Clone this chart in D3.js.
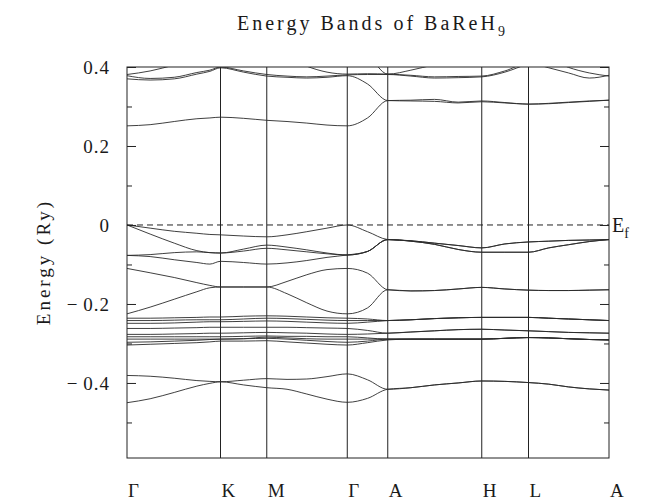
<!DOCTYPE html>
<html>
<head>
<meta charset="utf-8">
<script src="https://cdn.jsdelivr.net/npm/d3@7"></script>
<style>
    body { margin: 0; background: #fff; }
    svg { display: block; }
    text { font-family: "Liberation Serif", "DejaVu Serif", serif; fill: #1a1a1a; }
</style>
</head>
<body>
<svg id="chart" width="655" height="502"></svg>
<script>

// k-path: symmetry points (fraction of the whole path)
var symLabels = ['Γ', 'K', 'M', 'Γ', 'A', 'H', 'L', 'A'];
var symK = [0, 0.194, 0.290, 0.457, 0.541, 0.736, 0.833, 1.0];

// sample points along the path, shared by every band
var kGrid = [0, 0.048, 0.098, 0.145, 0.172, 0.194, 0.242, 0.290, 0.332, 0.373, 0.415, 0.457,
    0.499, 0.541, 0.589, 0.638, 0.687, 0.736, 0.784, 0.833, 0.875, 0.916, 0.959, 1.0];

// energy ticks (Ry)
var majorTicks = [0.4, 0.2, 0, -0.2, -0.4];
var minorTicks = [0.3, 0.1, -0.1, -0.3, -0.5];

// bands near the top
var bandT1 = [0.381, 0.390, 0.405, 0.420, 0.432, 0.440, 0.445, 0.440, 0.425, 0.402, 0.387, 0.382,
    0.383, 0.382, 0.379, 0.375, 0.376, 0.377, 0.390, 0.410, 0.398, 0.385, 0.372, 0.379];
var bandT2 = [0.45, 0.45, 0.45, 0.45, 0.45, 0.45, 0.45, 0.45, 0.45, 0.45, 0.45, 0.45,
    0.43, 0.382, 0.392, 0.406, 0.420, 0.430, 0.440, 0.450, 0.450, 0.450, 0.450, 0.450];
var bandB = [0.378, 0.371, 0.374, 0.386, 0.392, 0.400, 0.390, 0.381, 0.377, 0.375, 0.377, 0.380,
    0.381, 0.381, 0.377, 0.372, 0.373, 0.375, 0.387, 0.408, 0.420, 0.399, 0.385, 0.377];
var bandC = [0.370, 0.367, 0.370, 0.382, 0.389, 0.398, 0.387, 0.377, 0.374, 0.372, 0.374, 0.378,
    0.357, 0.315, 0.314, 0.313, 0.309, 0.312, 0.309, 0.306, 0.307, 0.310, 0.313, 0.316];
var bandR = [0.251, 0.254, 0.262, 0.269, 0.271, 0.273, 0.270, 0.265, 0.262, 0.258, 0.253, 0.251,
    0.271, 0.315, 0.316, 0.318, 0.311, 0.314, 0.310, 0.306, 0.308, 0.311, 0.314, 0.316];

// bands just below the Fermi level
var bandQ1 = [0, -0.008, -0.016, -0.021, -0.024, -0.025, -0.028, -0.030, -0.025, -0.017, -0.008, 0,
    -0.017, -0.037, -0.040, -0.046, -0.052, -0.058, -0.048, -0.043, -0.041, -0.039, -0.038, -0.037];
var bandQ2 = [0, -0.023, -0.046, -0.065, -0.070, -0.071, -0.061, -0.051, -0.056, -0.063, -0.071, -0.076,
    -0.067, -0.037].concat(bandQ1.slice(14));
var bandQ3 = [-0.077, -0.075, -0.070, -0.068, -0.070, -0.071, -0.066, -0.059, -0.063, -0.068, -0.073, -0.076,
    -0.067, -0.037, -0.041, -0.049, -0.062, -0.069, -0.069, -0.069, -0.058, -0.050, -0.042, -0.037];
var bandQ4 = [-0.077, -0.080, -0.088, -0.095, -0.099, -0.092, -0.095, -0.099, -0.096, -0.090, -0.082, -0.076,
    -0.067, -0.037].concat(bandQ3.slice(14));

// the -0.11 / -0.22 pair
var bandP1 = [-0.110, -0.121, -0.133, -0.146, -0.153, -0.157, -0.157, -0.157, -0.143, -0.126, -0.113, -0.110,
    -0.122, -0.164, -0.167, -0.166, -0.162, -0.158, -0.162, -0.165, -0.166, -0.166, -0.165, -0.164];
var bandP2 = [-0.225, -0.208, -0.188, -0.169, -0.159, -0.157, -0.157, -0.157, -0.174, -0.197, -0.218, -0.225,
    -0.210, -0.164].concat(bandP1.slice(14));

// dense group around -0.23 .. -0.31
var bandU1 = [-0.236, -0.236, -0.235, -0.234, -0.233, -0.233, -0.231, -0.230, -0.231, -0.233, -0.235, -0.236,
    -0.238, -0.242, -0.240, -0.237, -0.235, -0.234, -0.234, -0.234, -0.236, -0.238, -0.240, -0.242];
var bandU2 = [-0.242, -0.242, -0.241, -0.240, -0.240, -0.240, -0.238, -0.236, -0.237, -0.239, -0.241, -0.242,
    -0.242, -0.242].concat(bandU1.slice(14));
var bandU3 = [-0.249, -0.249, -0.248, -0.246, -0.245, -0.245, -0.244, -0.243, -0.244, -0.246, -0.248, -0.249,
    -0.246, -0.242].concat(bandU1.slice(14));
var bandM1 = [-0.262, -0.262, -0.261, -0.260, -0.259, -0.259, -0.259, -0.259, -0.259, -0.260, -0.261, -0.262,
    -0.267, -0.274, -0.271, -0.268, -0.265, -0.264, -0.266, -0.268, -0.270, -0.272, -0.273, -0.274];
var bandG1 = [-0.277, -0.277, -0.276, -0.275, -0.274, -0.274, -0.273, -0.272, -0.273, -0.274, -0.276, -0.277,
    -0.276, -0.274].concat(bandM1.slice(14));
var bandG2 = [-0.283, -0.283, -0.283, -0.283, -0.283, -0.283, -0.282, -0.281, -0.282, -0.282, -0.283, -0.283,
    -0.286, -0.289, -0.289, -0.289, -0.289, -0.289, -0.287, -0.285, -0.286, -0.288, -0.290, -0.291];
var bandG3 = [-0.289, -0.289, -0.289, -0.289, -0.289, -0.289, -0.288, -0.284, -0.286, -0.288, -0.289, -0.289,
    -0.289, -0.289].concat(bandG2.slice(14));
var bandG4 = [-0.297, -0.296, -0.294, -0.292, -0.290, -0.289, -0.288, -0.287, -0.289, -0.292, -0.295, -0.297,
    -0.294, -0.289].concat(bandG2.slice(14));
var bandG5 = [-0.304, -0.302, -0.300, -0.298, -0.296, -0.294, -0.294, -0.293, -0.296, -0.299, -0.302, -0.304,
    -0.298, -0.291].concat(bandG2.slice(14));

// lowest pair around -0.4
var bandL1 = [-0.450, -0.440, -0.424, -0.408, -0.401, -0.397, -0.405, -0.412, -0.416, -0.428, -0.441, -0.449,
    -0.439, -0.416, -0.412, -0.405, -0.400, -0.395, -0.396, -0.399, -0.403, -0.410, -0.415, -0.418];
var bandL2 = [-0.381, -0.383, -0.388, -0.394, -0.396, -0.397, -0.393, -0.389, -0.391, -0.390, -0.384, -0.377,
    -0.392, -0.416].concat(bandL1.slice(14));

var bands = [bandT1, bandT2, bandB, bandC, bandR, bandQ1, bandQ2, bandQ3, bandQ4, bandP1, bandP2,
    bandU1, bandU2, bandU3, bandM1, bandG1, bandG2, bandG3, bandG4, bandG5, bandL1, bandL2];

var margin = {top: 67, right: 46, bottom: 44, left: 127};
var dim = {w: 655 - margin.left - margin.right, h: 502 - margin.top - margin.bottom};

var svg = d3.select('#chart');
var g = svg.append('g').attr('transform', 'translate(' + margin.left + ',' + margin.top + ')');

var x = d3.scaleLinear().domain([0, 1]).range([0, dim.w]);
var y = d3.scaleLinear().domain([-0.59, 0.4]).range([dim.h, 0]);

g.append('clipPath').attr('id', 'plot-clip')
    .append('rect').attr('width', dim.w).attr('height', dim.h);

//fermi level
g.append('line')
    .attr('x1', 0).attr('x2', dim.w)
    .attr('y1', y(0)).attr('y2', y(0))
    .attr('stroke', '#222').attr('stroke-width', 1)
    .attr('stroke-dasharray', '6,4');

//vertical lines at symmetry points
g.selectAll('.sym-line').data(symK.slice(1, -1)).enter()
    .append('line')
    .attr('class', 'sym-line')
    .attr('x1', function (d) { return x(d); })
    .attr('x2', function (d) { return x(d); })
    .attr('y1', 0).attr('y2', dim.h)
    .attr('stroke', '#222').attr('stroke-width', 1);

//bands
var line = d3.line()
    .x(function (d, i) { return x(kGrid[i]); })
    .y(function (d) { return y(d); })
    .curve(d3.curveMonotoneX);

g.append('g').attr('clip-path', 'url(#plot-clip)')
    .selectAll('path').data(bands).enter()
    .append('path')
    .attr('d', line)
    .attr('fill', 'none')
    .attr('stroke', '#2a2a2a')
    .attr('stroke-width', 0.9);

//frame
g.append('rect')
    .attr('width', dim.w).attr('height', dim.h)
    .attr('fill', 'none').attr('stroke', '#222').attr('stroke-width', 1);

//axes, ticks pointing inwards on both sides
function fmt(d) {
    if (d === 0) return '0';
    return (d < 0 ? '\u2212\u2009' : '') + d3.format('.1f')(Math.abs(d));
}

var left = g.append('g')
    .call(d3.axisLeft(y).tickValues(majorTicks).tickSizeInner(-9).tickSizeOuter(0)
        .tickPadding(17).tickFormat(fmt));
left.append('g')
    .call(d3.axisLeft(y).tickValues(minorTicks).tickSizeInner(-5).tickSizeOuter(0).tickFormat(''));

var right = g.append('g').attr('transform', 'translate(' + dim.w + ',0)')
    .call(d3.axisRight(y).tickValues(majorTicks).tickSizeInner(-9).tickSizeOuter(0).tickFormat(''));
right.append('g')
    .call(d3.axisRight(y).tickValues(minorTicks).tickSizeInner(-5).tickSizeOuter(0).tickFormat(''));

svg.selectAll('.domain').remove();
svg.selectAll('.tick line').attr('stroke', '#222');
left.selectAll('.tick text')
    .style('font-size', '19px')
    .style('letter-spacing', '1px');

//symmetry labels
g.selectAll('.sym-label').data(symK).enter()
    .append('text')
    .attr('class', 'sym-label')
    .attr('x', function (d) { return x(d) + 1; })
    .attr('y', dim.h + 39)
    .style('font-size', '19px')
    .text(function (d, i) { return symLabels[i]; });

//fermi label
var ef = g.append('text')
    .attr('x', dim.w + 3)
    .attr('y', y(0) + 7)
    .style('font-size', '20px')
    .text('E');
ef.append('tspan').attr('dy', 6).style('font-size', '14px').text('f');

//axis title
svg.append('text')
    .attr('transform', 'translate(50,262) rotate(-90)')
    .attr('text-anchor', 'middle')
    .style('font-size', '19px')
    .style('letter-spacing', '3px')
    .text('Energy (Ry)');

//chart title
var title = svg.append('text')
    .attr('x', 237)
    .attr('y', 30)
    .style('font-size', '20px')
    .style('letter-spacing', '3px')
    .text('Energy Bands of BaReH');
title.append('tspan').attr('dy', 6).style('font-size', '14px').text('9');

</script>
</body>
</html>
